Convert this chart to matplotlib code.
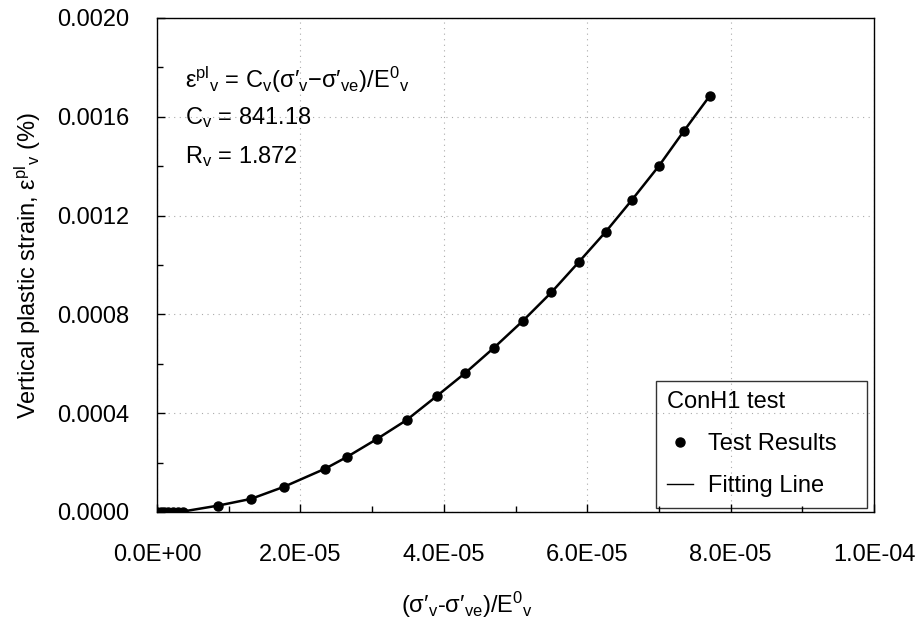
import matplotlib
matplotlib.use("Agg")
import matplotlib.pyplot as plt
from matplotlib.ticker import MultipleLocator, FormatStrFormatter, FuncFormatter

plt.rcParams['font.family'] = ['Liberation Sans', 'DejaVu Sans']
plt.rcParams['mathtext.fontset'] = 'custom'
plt.rcParams['mathtext.rm'] = 'Liberation Sans'
plt.rcParams['mathtext.it'] = 'Liberation Sans'
plt.rcParams['mathtext.default'] = 'regular'

# test results
stressRatio = [0.0, 0.05e-5, 0.10e-5, 0.16e-5, 0.22e-5, 0.29e-5, 0.36e-5,
               0.854e-5, 1.31e-5, 1.77e-5, 2.35e-5, 2.65e-5, 3.07e-5, 3.48e-5,
               3.90e-5, 4.30e-5, 4.70e-5, 5.10e-5, 5.50e-5, 5.88e-5, 6.26e-5,
               6.62e-5, 7.00e-5, 7.35e-5, 7.71e-5]
plasticStrain = [0.0, 0.0, 0.0, 0.0000005, 0.000001, 0.0000015, 0.000002,
                 0.000026, 0.000053, 0.000102, 0.000176, 0.000223, 0.000296, 0.000372,
                 0.000469, 0.000563, 0.000665, 0.000773, 0.000889, 0.001011, 0.001135,
                 0.001262, 0.001401, 0.001543, 0.001685]
fitLabel = "Fitting Line"
dataLabel = "Test Results"
testName = "ConH1 test"
fs = 17

fig = plt.figure(figsize=(9.22, 6.28), dpi=100)
ax = fig.add_axes([157/922, 1-512/628, (874-157)/922, (512-18)/628])

ax.plot(stressRatio, plasticStrain, color='black', lw=1.8, label=fitLabel, zorder=3)
ax.plot(stressRatio, plasticStrain, 'o', color='black', ms=6.5, label=dataLabel, zorder=4)

ax.set_xlim(0, 1.0e-4)
ax.set_ylim(0, 0.002)
ax.xaxis.set_major_locator(MultipleLocator(2e-5))
ax.xaxis.set_minor_locator(MultipleLocator(1e-5))
ax.yaxis.set_major_locator(MultipleLocator(0.0004))
ax.yaxis.set_minor_locator(MultipleLocator(0.0002))
ax.xaxis.set_major_formatter(FuncFormatter(lambda v, p: "%.1E" % v))
ax.yaxis.set_major_formatter(FormatStrFormatter('%.4f'))
ax.tick_params(which='both', direction='in', labelsize=fs, width=1)
ax.tick_params(which='major', length=6)
ax.tick_params(which='minor', length=4)
ax.tick_params(axis='x', which='major', pad=23)
ax.tick_params(axis='y', which='major', pad=20)
ax.grid(True, which='major', linestyle=(0, (1, 4)), color='#aaaaaa', lw=0.8)
for s in ax.spines.values():
    s.set_linewidth(1.0)

ax.set_ylabel(r"Vertical plastic strain, $\varepsilon^{pl}{}_{v}$ (%)", fontsize=fs, labelpad=10)
fig.text(467/922, 1-605/628, "(σ′$_{v}$-σ′$_{ve}$)/E$^{0}{}_{v}$", fontsize=fs, ha='center', va='center')

ax.text(185/922, 1-80/628, r"$\varepsilon^{pl}{}_{v}$ = C$_{v}$(σ′$_{v}$−σ′$_{ve}$)/E$^{0}{}_{v}$",
        transform=fig.transFigure, fontsize=fs, va='center')
ax.text(185/922, 1-118/628, "C$_{v}$ = 841.18", transform=fig.transFigure, fontsize=fs, va='center')
ax.text(185/922, 1-157/628, "R$_{v}$ = 1.872", transform=fig.transFigure, fontsize=fs, va='center')

h, l = ax.get_legend_handles_labels()
leg = ax.legend([h[1], h[0]], [l[1] + "   ", l[0]], title=testName, title_fontsize=fs, fontsize=fs,
                loc='lower right', bbox_to_anchor=(867/922, 1-508/628), bbox_transform=fig.transFigure,
                borderaxespad=0, frameon=True, fancybox=False, edgecolor='black', facecolor='none',
                alignment='left', labelspacing=0.85, handlelength=1.1,
                handletextpad=0.65, borderpad=0.45)
leg.get_frame().set_linewidth(1.0)
for line in leg.get_lines():
    line.set_linewidth(1.0)

fig.savefig("out.png", dpi=100)
